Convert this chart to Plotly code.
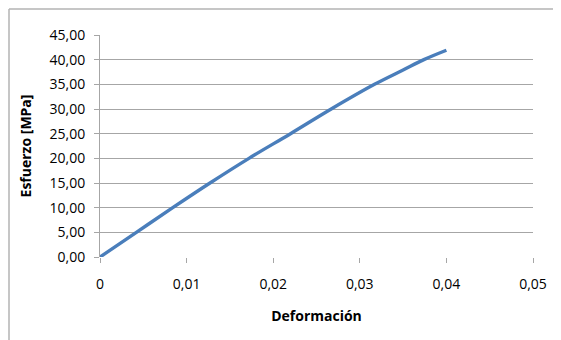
import plotly.graph_objects as go

# Data
deformacion = [0, 0.0042, 0.0084, 0.0127, 0.0172, 0.0220, 0.0267, 0.0317, 0.0350, 0.0374, 0.0400]
esfuerzo = [0, 5.0, 10.0, 15.0, 20.0, 25.0, 30.0, 35.0, 37.9, 40.0, 41.9]

x_tickvals = [0, 0.01, 0.02, 0.03, 0.04, 0.05]
x_ticktext = ["0", "0,01", "0,02", "0,03", "0,04", "0,05"]
y_tickvals = [0, 5, 10, 15, 20, 25, 30, 35, 40, 45]
y_ticktext = ["0,00", "5,00", "10,00", "15,00", "20,00", "25,00", "30,00", "35,00", "40,00", "45,00"]

FONT = "Open Sans"
GRID = "#a6a6a6"

fig = go.Figure()
fig.add_trace(go.Scatter(
    x=deformacion, y=esfuerzo, mode="lines",
    line=dict(color="#4A7EBB", width=3.4, shape="spline", smoothing=1.0),
    showlegend=False, hoverinfo="skip",
))

# page body has an 8px margin, so figure is offset by (8, 8)
OFF = 8
W, H = 561 - OFF, 340 - OFF
L, R, T, B = 100 - OFF, 28, 35 - OFF, 83
pw, ph = W - L - R, H - T - B

def px(xp):  # page pixel x -> paper
    return (xp - OFF - L) / pw

def py(yp):  # page pixel y -> paper
    return (H - B - (yp - OFF)) / ph

fig.update_layout(
    width=W, height=H,
    margin=dict(l=L, r=R, t=T, b=B),
    paper_bgcolor="white", plot_bgcolor="white",
    font=dict(family=FONT, size=14, color="black"),
    xaxis=dict(
        range=[0, 0.05], tickvals=x_tickvals, ticktext=x_ticktext,
        showgrid=False, zeroline=False, showline=False,
        ticks="outside", ticklen=5, tickcolor=GRID, tickwidth=1,
        ticklabelstandoff=9,
        title=dict(text="<b>Deformación</b>", standoff=19, font=dict(size=14)),
    ),
    yaxis=dict(
        range=[0, 45], tickvals=y_tickvals, ticktext=y_ticktext,
        showgrid=True, gridcolor=GRID, gridwidth=1,
        zeroline=False, showline=True, linecolor=GRID, linewidth=1,
        ticks="outside", ticklen=5, tickcolor=GRID, tickwidth=1,
        ticklabelstandoff=6,
        title=dict(text="<b>Esfuerzo [MPa]</b>", standoff=14, font=dict(size=14)),
    ),
    shapes=[
        dict(type="line", xref="paper", yref="paper",
             x0=px(9), x1=px(575), y0=py(9), y1=py(9),
             line=dict(color="#b3b3b3", width=1.5)),
        dict(type="line", xref="paper", yref="paper",
             x0=px(9), x1=px(9), y0=py(9), y1=py(345),
             line=dict(color="#b3b3b3", width=1.5)),
    ],
)

fig.write_html("out.html")
